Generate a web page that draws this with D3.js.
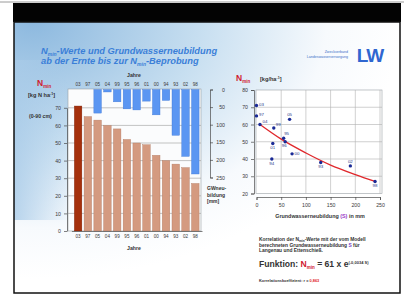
<!DOCTYPE html>
<html>
<head>
<meta charset="utf-8">
<script src="https://cdn.jsdelivr.net/npm/d3@7"></script>
<style>
  body { margin: 0; background: #fff; }
  svg { display: block; font-family: "Liberation Sans", Arial, sans-serif; }
</style>
</head>
<body>
<div class="chart"></div>
<script>
// years sorted by Nmin (bar order)
var years = ["03", "97", "05", "04", "99", "95", "96", "01", "00", "94", "93", "02", "98"];
var nmin = [71, 65, 63, 60, 58, 52, 50, 49, 43, 40, 38, 36, 27];          // kg N/ha (0-90 cm)
var gwn = [0, 0, 67, 7, 35, 55, 58, 33, 72, 31, 130, 190, 240];          // Grundwasserneubildung mm
var nTicks = [0, 10, 20, 30, 40, 50, 60, 70];
var gwTicks = [0, 50, 100, 150, 200, 250];
var sTicks = [0, 50, 100, 150, 200, 250];
var scTicks = [20, 30, 40, 50, 60, 70, 80];
// fitted curve (S, Nmin)
var fitS = [7, 50, 100, 150, 200, 240];
var fitN = [60, 51.5, 43.5, 36.5, 31, 27];

var width = 404, height = 297;

var svg = d3.select(".chart").append("svg")
    .attr("width", width)
    .attr("height", height);

var defs = svg.append("defs");
var rg = defs.append("radialGradient").attr("id", "sky")
    .attr("cx", "0.05").attr("cy", "0.0").attr("r", "0.95")
    .attr("fx", "0.05").attr("fy", "0.0");
rg.append("stop").attr("offset", "0").attr("stop-color", "#8db9df");
rg.append("stop").attr("offset", "0.45").attr("stop-color", "#c6def0");
rg.append("stop").attr("offset", "0.8").attr("stop-color", "#f7fafd");
rg.append("stop").attr("offset", "1").attr("stop-color", "#ffffff");

var lg = defs.append("linearGradient").attr("id", "leftband")
    .attr("x1", 0).attr("x2", 1).attr("y1", 0).attr("y2", 0);
lg.append("stop").attr("offset", "0").attr("stop-color", "#a9cbe8").attr("stop-opacity", 0.8);
lg.append("stop").attr("offset", "1").attr("stop-color", "#a9cbe8").attr("stop-opacity", 0);

// monitor frame
svg.append("line").attr("x1", 0).attr("x2", width).attr("y1", 2).attr("y2", 2)
    .attr("stroke", "#9a9a9a").attr("stroke-width", 1);
svg.append("rect").attr("x", 13).attr("y", 3).attr("width", 388).attr("height", 19).attr("fill", "#030303");
svg.append("rect").attr("x", 14).attr("y", 22).attr("width", 386).attr("height", 271)
    .attr("fill", "url(#sky)");
svg.append("rect").attr("x", 14).attr("y", 60).attr("width", 55).attr("height", 160)
    .attr("fill", "url(#leftband)");
svg.append("rect").attr("x", 14).attr("y", 22).attr("width", 386).attr("height", 271)
    .attr("fill", "none").attr("stroke", "#111").attr("stroke-width", 1.5);

// title
var title = svg.append("g").attr("fill", "#3b7fd8").attr("font-weight", "bold")
    .attr("font-size", 9.3).attr("font-style", "italic");
var t1 = title.append("text").attr("x", 41).attr("y", 54);
t1.append("tspan").text("N");
t1.append("tspan").attr("font-size", 5).attr("dy", 1.5).text("min");
t1.append("tspan").attr("dy", -1.5).text("-Werte und Grundwasserneubildung");
var t2 = title.append("text").attr("x", 41).attr("y", 64);
t2.append("tspan").text("ab der Ernte bis zur N");
t2.append("tspan").attr("font-size", 5).attr("dy", 1.5).text("min");
t2.append("tspan").attr("dy", -1.5).text("-Beprobung");

// logo
svg.append("text").attr("x", 348).attr("y", 53).attr("text-anchor", "end")
    .attr("font-size", 3.6).attr("fill", "#3a6fc8").text("Zweckverband");
svg.append("text").attr("x", 348).attr("y", 57.5).attr("text-anchor", "end")
    .attr("font-size", 3.6).attr("fill", "#3a6fc8").text("Landeswasserversorgung");
svg.append("text").attr("x", 370).attr("y", 62).attr("text-anchor", "middle")
    .attr("font-size", 19).attr("font-weight", "bold").attr("fill", "#2f66d0")
    .attr("letter-spacing", -1).text("LW");

// ---------- left chart ----------
var x = d3.scaleBand().domain(years).range([71.4, 202]).paddingInner(0.23).paddingOuter(0.3);
var yN = d3.scaleLinear().domain([0, 70]).range([231, 107.8]);
var yG = d3.scaleLinear().domain([0, 250]).range([89.5, 177.5]);

var g1 = svg.append("g");
g1.append("rect").attr("x", 68).attr("y", 89).attr("width", 133).attr("height", 142)
    .attr("fill", "#fbfcfd").attr("stroke", "#9aa0a6").attr("stroke-width", 0.6);
g1.selectAll("line.grid").data(nTicks.slice(1)).join("line")
    .attr("class", "grid")
    .attr("x1", 68).attr("x2", 201)
    .attr("y1", d => yN(d)).attr("y2", d => yN(d))
    .attr("stroke", "#9a9a9a").attr("stroke-width", 0.6);

g1.selectAll("rect.nbar").data(years).join("rect")
    .attr("class", "nbar")
    .attr("x", d => x(d))
    .attr("width", x.bandwidth())
    .attr("y", (d, i) => yN(nmin[i]))
    .attr("height", (d, i) => yN(0) - yN(nmin[i]))
    .attr("fill", (d, i) => i === 0 ? "#a5300c" : "#d49a80")
    .attr("stroke", (d, i) => i === 0 ? "#7d2208" : "#b27a62")
    .attr("stroke-width", 0.4);

g1.selectAll("rect.gbar").data(years).join("rect")
    .attr("class", "gbar")
    .attr("x", d => x(d))
    .attr("width", x.bandwidth())
    .attr("y", yG(0))
    .attr("height", (d, i) => yG(gwn[i]) - yG(0))
    .attr("fill", "#5b96f2")
    .attr("stroke", "#3f78d6")
    .attr("stroke-width", 0.4);

var axL = g1.append("g").attr("transform", "translate(67,0)")
    .call(d3.axisLeft(yN).tickValues(nTicks).tickSize(3).tickSizeOuter(0));
var axG = g1.append("g").attr("transform", "translate(210,0)")
    .call(d3.axisRight(yG).tickValues(gwTicks).tickSize(3).tickSizeOuter(3));
axG.selectAll("text").attr("text-anchor", "end").attr("x", 15);

var axTop = g1.append("g").attr("transform", "translate(0,86)")
    .call(d3.axisTop(x).tickSize(0).tickPadding(0));
var axBot = g1.append("g").attr("transform", "translate(0,231)")
    .call(d3.axisBottom(x).tickSize(0).tickPadding(4));
axTop.select(".domain").remove();
axBot.select(".domain").attr("stroke", "#777");

[axL, axG, axTop, axBot].forEach(a => {
  a.selectAll("text").attr("font-size", 5.2).attr("fill", "#3a3a3a").attr("font-family", "Liberation Sans, Arial, sans-serif");
  a.selectAll("line, path").attr("stroke", "#4a4a4a").attr("stroke-width", 0.7);
});
axTop.selectAll("text").attr("font-size", 4.6);
axBot.selectAll("text").attr("font-size", 4.6);

g1.append("text").attr("x", 134).attr("y", 77).attr("text-anchor", "middle")
    .attr("font-size", 5.2).attr("font-weight", "bold").attr("fill", "#333").text("Jahre");
g1.append("text").attr("x", 134).attr("y", 250).attr("text-anchor", "middle")
    .attr("font-size", 5.2).attr("font-weight", "bold").attr("fill", "#333").text("Jahre");

var nl = g1.append("text").attr("x", 37).attr("y", 86).attr("fill", "#d02030")
    .attr("font-size", 8.5).attr("font-weight", "bold");
nl.append("tspan").text("N");
nl.append("tspan").attr("font-size", 4.5).attr("dy", 2).text("min");
var ul = g1.append("text").attr("x", 28).attr("y", 97).attr("fill", "#333")
    .attr("font-size", 5.6).attr("font-weight", "bold");
ul.append("tspan").text("[kg N ha");
ul.append("tspan").attr("font-size", 3.6).attr("dy", -2).text("-1");
ul.append("tspan").attr("dy", 2).text("]");
g1.append("text").attr("x", 29).attr("y", 118).attr("fill", "#333")
    .attr("font-size", 5.2).attr("font-weight", "bold").text("(0-90 cm)");

var gl = g1.append("text").attr("font-size", 5).attr("fill", "#333").attr("font-weight", "bold");
["GWneu-", "bildung", "[mm]"].forEach((s, i) => {
  gl.append("tspan").attr("x", 207).attr("y", 190 + i * 6.5).text(s);
});

// ---------- scatter ----------
var xs = d3.scaleLinear().domain([0, 250]).range([256.5, 380]);
var ys = d3.scaleLinear().domain([20, 80]).range([193.5, 90]);

var g2 = svg.append("g");
g2.append("rect").attr("x", 256).attr("y", 90).attr("width", 126).attr("height", 103.5)
    .attr("fill", "#ffffff").attr("stroke", "#9aa0a6").attr("stroke-width", 0.6);
g2.selectAll("line.hg").data(scTicks.slice(1, -1)).join("line")
    .attr("class", "hg")
    .attr("x1", 256).attr("x2", 382)
    .attr("y1", d => ys(d)).attr("y2", d => ys(d))
    .attr("stroke", "#b0b0b0").attr("stroke-width", 0.6);
g2.selectAll("line.vg").data(sTicks.slice(1)).join("line")
    .attr("class", "vg")
    .attr("x1", d => xs(d)).attr("x2", d => xs(d))
    .attr("y1", 90).attr("y2", 193.5)
    .attr("stroke", "#b0b0b0").attr("stroke-width", 0.6);

var axSY = g2.append("g").attr("transform", "translate(254,0)")
    .call(d3.axisLeft(ys).tickValues(scTicks).tickSize(3).tickSizeOuter(3));
var axSX = g2.append("g").attr("transform", "translate(0,197)")
    .call(d3.axisBottom(xs).tickValues(sTicks).tickSize(3).tickSizeOuter(3));
[axSY, axSX].forEach(a => {
  a.selectAll("text").attr("font-size", 5.2).attr("fill", "#3a3a3a").attr("font-family", "Liberation Sans, Arial, sans-serif");
  a.selectAll("line, path").attr("stroke", "#4a4a4a").attr("stroke-width", 0.7);
});

var fitLine = d3.line()
    .x((d, i) => xs(fitS[i]))
    .y((d, i) => ys(fitN[i]))
    .curve(d3.curveMonotoneX);
g2.append("path").datum(fitS).attr("d", fitLine)
    .attr("fill", "none").attr("stroke", "#e0282c").attr("stroke-width", 1.3);

g2.selectAll("circle.pt").data(years).join("circle")
    .attr("class", "pt")
    .attr("cx", (d, i) => xs(gwn[i]))
    .attr("cy", (d, i) => ys(nmin[i]))
    .attr("r", 1.7)
    .attr("fill", "#1a2a96");

// label placement per year: [dx, dy, anchor]
var lp = {
  "03": [2.5, 0.5, "start"], "97": [2.5, 0.5, "start"], "04": [2.5, -1.5, "start"],
  "99": [2, -1.8, "start"], "05": [0, -3, "middle"], "95": [0.5, -3, "start"],
  "96": [-1, 5.5, "middle"], "01": [0, 5.5, "middle"], "00": [2.5, 1.6, "start"],
  "94": [0, 5.5, "middle"], "93": [0, 5.5, "middle"], "02": [0, -3, "middle"],
  "98": [0, 5.5, "middle"]
};
g2.selectAll("text.pl").data(years).join("text")
    .attr("class", "pl")
    .attr("x", (d, i) => xs(gwn[i]) + lp[d][0])
    .attr("y", (d, i) => ys(nmin[i]) + lp[d][1])
    .attr("text-anchor", d => lp[d][2])
    .attr("font-size", 4.4)
    .attr("fill", "#2a3a8a")
    .text(d => d);

var sl = g2.append("text").attr("x", 236).attr("y", 81).attr("fill", "#d02030")
    .attr("font-size", 8.5).attr("font-weight", "bold");
sl.append("tspan").text("N");
sl.append("tspan").attr("font-size", 4.5).attr("dy", 2).text("min");
var sl2 = g2.append("text").attr("x", 260).attr("y", 81).attr("fill", "#333")
    .attr("font-size", 5.6).attr("font-weight", "bold");
sl2.append("tspan").text("[kg/ha");
sl2.append("tspan").attr("font-size", 3.6).attr("dy", -2).text("-1");
sl2.append("tspan").attr("dy", 2).text("]");

var xt = g2.append("text").attr("x", 320).attr("y", 218).attr("text-anchor", "middle")
    .attr("font-size", 5.4).attr("font-weight", "bold").attr("fill", "#333");
xt.append("tspan").text("Grundwasserneubildung ");
xt.append("tspan").attr("fill", "#9a3cc8").text("(S)");
xt.append("tspan").text(" in mm");

// ---------- notes ----------
var notes = svg.append("g").attr("font-size", 4.9).attr("fill", "#333").attr("font-weight", "bold");
var n1 = notes.append("text").attr("x", 259).attr("y", 241);
n1.append("tspan").text("Korrelation der N");
n1.append("tspan").attr("font-size", 3.2).attr("dy", 1).text("min");
n1.append("tspan").attr("dy", -1).text("-Werte mit der vom Modell");
var n2 = notes.append("text").attr("x", 259).attr("y", 246.8);
n2.append("tspan").text("berechneten Grundwasserneubildung ");
n2.append("tspan").attr("fill", "#7a3cc8").text("S");
n2.append("tspan").text(" für");
notes.append("text").attr("x", 259).attr("y", 252.4).text("Langenau und Ettenschieß.");

var fn = svg.append("text").attr("x", 259).attr("y", 267).attr("font-size", 8.6)
    .attr("font-weight", "bold").attr("fill", "#333");
fn.append("tspan").text("Funktion:   ");
fn.append("tspan").attr("fill", "#d02030").text("N");
fn.append("tspan").attr("fill", "#d02030").attr("font-size", 4.5).attr("dy", 2).text("min");
fn.append("tspan").attr("dy", -2).text(" = 61 x e");
fn.append("tspan").attr("font-size", 4).attr("dy", -3).text("(-0,0034 S)");

var kr = svg.append("text").attr("x", 259).attr("y", 282).attr("font-size", 3.9)
    .attr("font-weight", "bold").attr("fill", "#333");
kr.append("tspan").text("Korrelationskoeffizient: r = ");
kr.append("tspan").attr("fill", "#e02020").text("0,863");
</script>
</body>
</html>
